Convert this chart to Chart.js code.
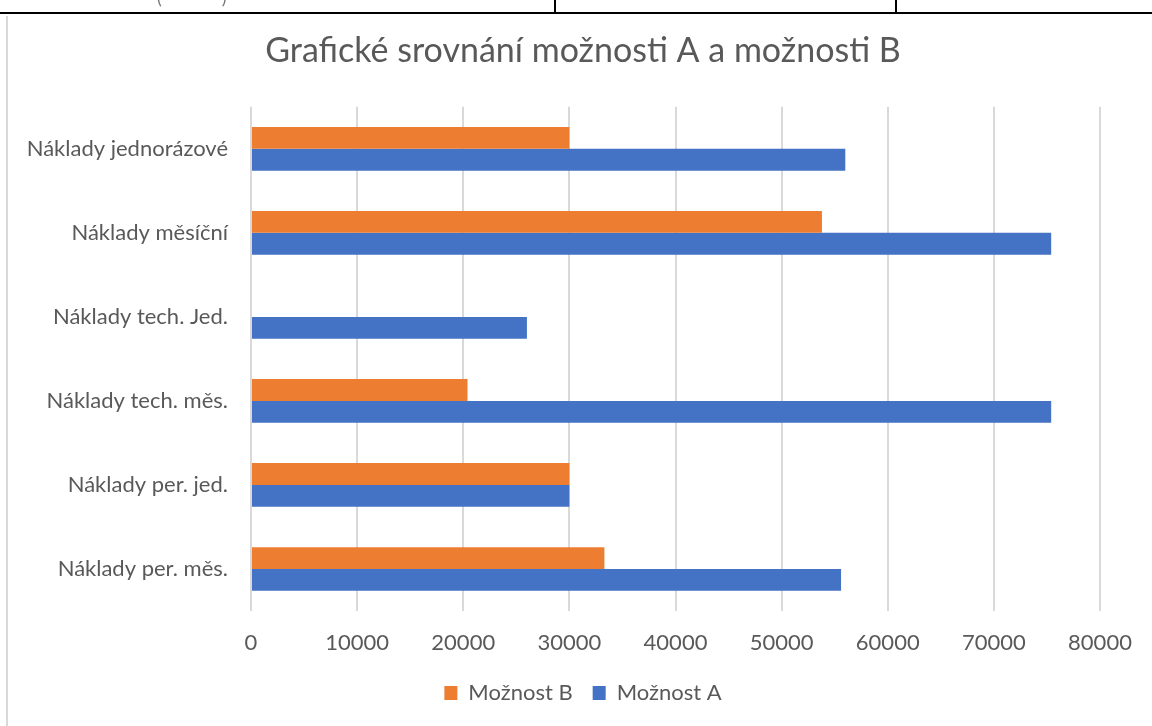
<!DOCTYPE html>
<html>
<head>
<meta charset="utf-8">
<script src="https://cdn.jsdelivr.net/npm/chart.js@4"></script>
<style>
body{margin:0;background:#fff;overflow:hidden;}
#wrap{position:relative;width:1152px;height:726px;}
#chart{position:absolute;left:0;top:0;}
.line{position:absolute;background:#000;}
#frame{position:absolute;left:6px;top:16px;width:2px;height:710px;background:#d9d9d9;}
#paren{position:absolute;left:157px;top:-14px;font:18px Lato,sans-serif;color:#777;}
</style>
</head>
<body>
<div id="wrap">
<canvas id="chart" width="1152" height="726"></canvas>
<div class="line" style="left:0;top:12px;width:1152px;height:2px;"></div>
<div class="line" style="left:554px;top:0;width:2px;height:13px;"></div>
<div class="line" style="left:895px;top:0;width:2px;height:13px;"></div>
<div id="paren">(&nbsp;&nbsp;&nbsp;&nbsp;&nbsp;&nbsp;&nbsp;&nbsp;&nbsp;&nbsp;&nbsp;&nbsp;&nbsp;)</div>
<div id="frame"></div>
</div>
<script>
const categories=["Náklady jednorázové","Náklady měsíční","Náklady tech. Jed.","Náklady tech. měs.","Náklady per. jed.","Náklady per. měs."];
const moznostB=[30000,53800,0,20400,30000,33300];
const moznostA=[56000,75400,26000,75400,30000,55600];
const xTicks=[0,10000,20000,30000,40000,50000,60000,70000,80000];

const ctx=document.getElementById("chart");
const font="Lato, 'Open Sans', sans-serif";
Chart.defaults.font.family=font;
Chart.defaults.color="#595959";

new Chart(ctx,{
type:'bar',
data:{
labels:categories,
datasets:[
{label:'Možnost B',data:moznostB,backgroundColor:'#ED7D31',borderWidth:0},
{label:'Možnost A',data:moznostA,backgroundColor:'#4472C4',borderWidth:0}
]
},
options:{
indexAxis:'y',
responsive:false,
animation:false,
layout:{padding:{left:14,right:0,top:0,bottom:12}},
categoryPercentage:0.52,
barPercentage:1,
scales:{
x:{
min:0,max:80000,
afterBuildTicks:s=>{s.ticks=xTicks.map(v=>({value:v}));},
afterFit:s=>{s.height=51;},
grid:{color:'#d9d9d9',lineWidth:2,drawTicks:false},
border:{display:false},
ticks:{padding:19,font:{size:22},color:'#595959',callback:v=>String(v)}
},
y:{
afterFit:s=>{s.width=237;},
grid:{display:false,drawTicks:false},
border:{display:false},
ticks:{padding:23,font:{size:22},color:'#595959'}
},
// empty right axis, only keeps room on the right like the original
y2:{
position:'right',
afterFit:s=>{s.width=52;},
grid:{display:false,drawTicks:false},
border:{display:false},
ticks:{display:false}
}
},
plugins:{
title:{display:true,text:'Grafické srovnání možnosti A a možnosti B',font:{size:34,weight:'normal'},color:'#595959',padding:{top:31,bottom:35}},
legend:{position:'bottom',labels:{boxWidth:13,boxHeight:14,font:{size:22},color:'#595959',padding:20}},
tooltip:{enabled:false}
}
}
});
</script>
</body>
</html>
